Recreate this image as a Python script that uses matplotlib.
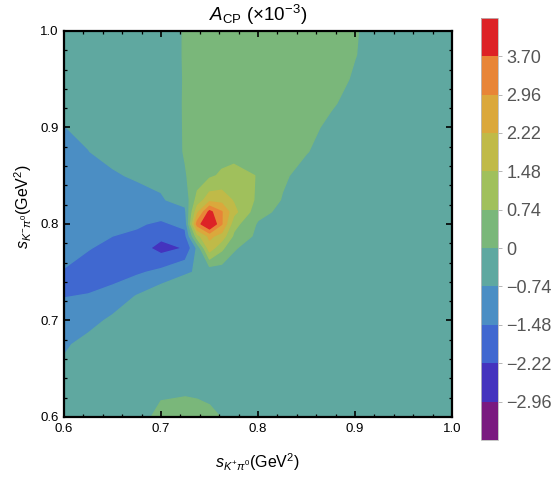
# -*- coding: utf-8 -*-
"""
A_CP 在 (s_{K+π0}, s_{K-π0}) 平面上的分布等值线图
依赖：numpy, matplotlib
"""

import numpy as np
import matplotlib.pyplot as plt

plt.rcParams['font.family'] = ['Liberation Sans', 'DejaVu Sans']
plt.rcParams['mathtext.fontset'] = 'custom'
plt.rcParams['mathtext.rm'] = 'Liberation Sans'
plt.rcParams['mathtext.it'] = 'Liberation Sans:italic'
plt.rcParams['mathtext.bf'] = 'Liberation Sans:bold'

# ============================================================
# 数据（A_CP 单位 10^-3）
# ============================================================
# 横轴格点 s_{K+π0} (GeV^2)，峰附近加密
S_KP_PI0 = [0.6, 0.625, 0.65, 0.675, 0.7, 0.725, 0.7375, 0.75, 0.7625, 0.775,
            0.8, 0.825, 0.85, 0.875, 0.9, 0.925, 0.95, 0.975, 1.0]
# 纵轴格点 s_{K-π0} (GeV^2)，自上而下
S_KM_PI0 = [1.0, 0.975, 0.95, 0.925, 0.9, 0.875, 0.85, 0.825, 0.8125, 0.8,
            0.7875, 0.775, 0.75, 0.725, 0.7, 0.675, 0.65, 0.625, 0.6]

# 每行对应 S_KM_PI0 中的一个值，每列对应 S_KP_PI0
ACP = [
    [-0.35, -0.35, -0.35, -0.35, -0.35, 0.05, 0.25, 0.35, 0.35, 0.35, 0.35, 0.35, 0.35, 0.35, 0.05, -0.3, -0.3, -0.3, -0.3],
    [-0.40, -0.38, -0.37, -0.36, -0.35, 0.05, 0.25, 0.35, 0.35, 0.35, 0.35, 0.35, 0.35, 0.35, 0.02, -0.3, -0.3, -0.3, -0.3],
    [-0.50, -0.45, -0.42, -0.40, -0.35, 0.04, 0.25, 0.35, 0.35, 0.35, 0.35, 0.35, 0.35, 0.30, -0.1, -0.3, -0.3, -0.3, -0.3],
    [-0.60, -0.55, -0.50, -0.45, -0.38, 0.05, 0.25, 0.35, 0.35, 0.35, 0.35, 0.35, 0.30, 0.10, -0.3, -0.3, -0.3, -0.3, -0.3],
    [-0.75, -0.65, -0.58, -0.50, -0.42, 0.05, 0.25, 0.35, 0.35, 0.35, 0.35, 0.35, 0.25, -0.2, -0.3, -0.3, -0.3, -0.3, -0.3],
    [-0.95, -0.75, -0.60, -0.55, -0.48, 0.05, 0.28, 0.40, 0.43, 0.45, 0.40, 0.30, 0.03, -0.3, -0.3, -0.3, -0.3, -0.3, -0.3],
    [-1.10, -0.95, -0.80, -0.68, -0.60, -0.05, 0.30, 0.60, 0.85, 1.00, 0.70, 0.12, -0.3, -0.3, -0.3, -0.3, -0.3, -0.3, -0.3],
    [-1.20, -1.15, -1.05, -0.95, -0.80, -0.50, 1.00, 1.90, 1.90, 1.40, 0.60, -0.05, -0.3, -0.3, -0.3, -0.3, -0.3, -0.3, -0.3],
    [-1.25, -1.22, -1.18, -1.18, -1.20, -0.90, 2.00, 3.90, 3.00, 1.70, 0.25, -0.20, -0.3, -0.3, -0.3, -0.3, -0.3, -0.3, -0.3],
    [-1.30, -1.30, -1.30, -1.40, -1.60, -1.30, 3.30, 4.60, 3.00, 1.00, -0.10, -0.30, -0.3, -0.3, -0.3, -0.3, -0.3, -0.3, -0.3],
    [-1.34, -1.38, -1.48, -1.60, -2.05, -1.70, 1.20, 2.40, 1.90, 0.60, -0.20, -0.30, -0.3, -0.3, -0.3, -0.3, -0.3, -0.3, -0.3],
    [-1.38, -1.45, -1.65, -1.85, -2.50, -2.18, -0.60, 1.85, 0.90, 0.05, -0.30, -0.30, -0.3, -0.3, -0.3, -0.3, -0.3, -0.3, -0.3],
    [-1.50, -1.75, -1.80, -1.60, -1.30, -0.80, -0.70, -0.60, -0.45, -0.30, -0.30, -0.30, -0.3, -0.3, -0.3, -0.3, -0.3, -0.3, -0.3],
    [-1.50, -1.45, -1.20, -0.70, -0.20, -0.30, -0.30, -0.30, -0.30, -0.30, -0.30, -0.30, -0.3, -0.3, -0.3, -0.3, -0.3, -0.3, -0.3],
    [-1.20, -1.00, -0.60, -0.40, -0.35, -0.30, -0.30, -0.30, -0.30, -0.30, -0.30, -0.30, -0.3, -0.3, -0.3, -0.3, -0.3, -0.3, -0.3],
    [-0.85, -0.50, -0.40, -0.35, -0.30, -0.30, -0.30, -0.30, -0.30, -0.30, -0.30, -0.30, -0.3, -0.3, -0.3, -0.3, -0.3, -0.3, -0.3],
    [-0.60, -0.40, -0.35, -0.30, -0.30, -0.30, -0.30, -0.30, -0.30, -0.30, -0.30, -0.30, -0.3, -0.3, -0.3, -0.3, -0.3, -0.3, -0.3],
    [-0.45, -0.35, -0.30, -0.30, -0.10, -0.05, -0.08, -0.15, -0.25, -0.30, -0.30, -0.30, -0.3, -0.3, -0.3, -0.3, -0.3, -0.3, -0.3],
    [-0.35, -0.30, -0.30, -0.30, 0.20, 0.25, 0.22, 0.15, -0.02, -0.30, -0.30, -0.30, -0.3, -0.3, -0.3, -0.3, -0.3, -0.3, -0.3],
]

# 等值线分层与配色（由低到高）
LEVELS = [-3.70, -2.96, -2.22, -1.48, -0.74, 0.0, 0.74, 1.48, 2.22, 2.96, 3.70, 5.00]
COLORS = ['#7a1a80', '#4433be', '#4068d0', '#4b8ec4', '#5fa8a0', '#7ab77a',
          '#a0c05c', '#c0ba48', '#dba83c', '#e88537', '#dd2226']
CBAR_TICKS = LEVELS[1:-1]
CBAR_LABELS = ['\u22122.96', '\u22122.22', '\u22121.48', '\u22120.74', '0',
               '0.74', '1.48', '2.22', '2.96', '3.70']

AXIS_TICKS = [0.6, 0.7, 0.8, 0.9, 1.0]
AXIS_LABELS = ['0.6', '0.7', '0.8', '0.9', '1.0']


# ============================================================
# 绘图
# ============================================================
def plot():
    x = np.array(S_KP_PI0)
    y = np.array(S_KM_PI0)[::-1]
    z = np.array(ACP)[::-1]

    fig = plt.figure(figsize=(5.51, 4.80), dpi=100)
    ax = fig.add_axes([0.1162, 0.1313, 0.7041, 0.8042])
    cax = fig.add_axes([0.873, 0.0833, 0.0309, 0.8797])

    cs = ax.contourf(x, y, z, levels=LEVELS, colors=COLORS, antialiased=True)
    cs.set_edgecolor('face')

    ax.set_xlim(0.6, 1.0)
    ax.set_ylim(0.6, 1.0)
    ax.set_xticks(AXIS_TICKS, AXIS_LABELS)
    ax.set_yticks(AXIS_TICKS, AXIS_LABELS)
    ax.set_xticks(np.arange(0.62, 1.0, 0.02), minor=True)
    ax.set_yticks(np.arange(0.62, 1.0, 0.02), minor=True)
    ax.tick_params(which='both', direction='in', top=True, right=True,
                   labelsize=9.5, pad=4)
    ax.tick_params(which='major', length=4.5, width=1.2)
    ax.tick_params(which='minor', length=2.5, width=0.9)
    for sp in ax.spines.values():
        sp.set_linewidth(1.6)

    # 色标：等宽色块
    cb = fig.colorbar(cs, cax=cax, ticks=CBAR_TICKS)
    cb.set_ticklabels(CBAR_LABELS)
    cb.outline.set_edgecolor('#bbbbbb')
    cb.outline.set_linewidth(0.6)
    cax.tick_params(length=3, width=0.6, color='#aaaaaa',
                    labelcolor='#555555', labelsize=13, pad=3)

    fig.text(0.468, 0.957, r'$A_{\mathrm{CP}}$ ($\times$10$^{-3}$)',
             ha='center', va='baseline', fontsize=13.5)
    fig.text(0.468, 0.025, r'$s_{K^{+}\pi^{0}}$(GeV$^2$)',
             ha='center', va='baseline', fontsize=11.5)
    fig.text(0.042, 0.57, r'$s_{K^{-}\pi^{0}}$(GeV$^2$)',
             ha='center', va='center', rotation=90, fontsize=11.5)

    fig.savefig('out.png', dpi=100)
    plt.close(fig)


if __name__ == '__main__':
    plot()
